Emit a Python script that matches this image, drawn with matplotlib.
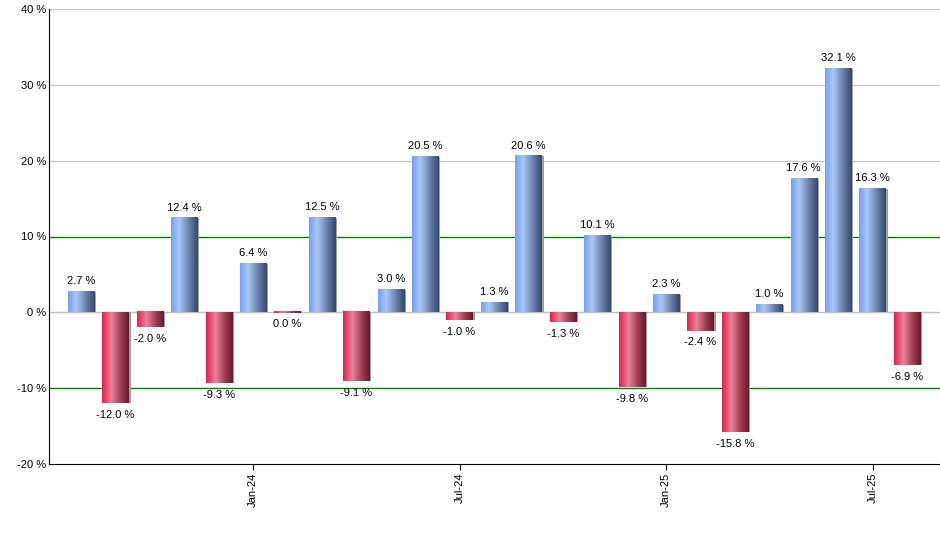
import numpy as np
import matplotlib.pyplot as plt
from matplotlib.colors import LinearSegmentedColormap

months = ['Aug-23', 'Sep-23', 'Oct-23', 'Nov-23', 'Dec-23', 'Jan-24', 'Feb-24', 'Mar-24',
          'Apr-24', 'May-24', 'Jun-24', 'Jul-24', 'Aug-24', 'Sep-24', 'Oct-24', 'Nov-24',
          'Dec-24', 'Jan-25', 'Feb-25', 'Mar-25', 'Apr-25', 'May-25', 'Jun-25', 'Jul-25',
          'Aug-25']
returns = [2.7, -12.0, -2.0, 12.4, -9.3, 6.4, 0.0, 12.5, -9.1, 3.0, 20.5, -1.0, 1.3,
           20.6, -1.3, 10.1, -9.8, 2.3, -2.4, -15.8, 1.0, 17.6, 32.1, 16.3, -6.9]
tick_labels = ['Jan-24', 'Jul-24', 'Jan-25', 'Jul-25']
y_ticks = [-20, -10, 0, 10, 20, 30, 40]

plt.rcParams['font.family'] = ['Liberation Sans', 'DejaVu Sans']

blue = LinearSegmentedColormap.from_list('b', [(0, '#74a0ee'), (0.3, '#aac7f8'),
                                               (0.65, '#6e86b0'), (1, '#33486d')])
red = LinearSegmentedColormap.from_list('r', [(0, '#e0224b'), (0.35, '#e9819b'),
                                              (0.7, '#a03e55'), (1, '#661a2a')])
grad = np.linspace(0, 1, 64).reshape(1, -1)

fig = plt.figure(figsize=(9.4, 5.5), dpi=100)
ax = fig.add_axes([0.0521, 0.1564, 0.9479, 0.8272])

x = np.arange(len(returns))
w = 0.76
for yv, c in [(10, 'green'), (-10, 'green'), (20, '#c8c8c8'), (30, '#c8c8c8'),
              (40, '#c8c8c8'), (0, '#c0c0c0')]:
    ax.axhline(yv, color=c, lw=1, zorder=1)

for xi, v in zip(x, returns):
    h = v if abs(v) > 0.15 else -0.15
    # shadow
    ax.bar(xi + 0.06, h, width=w, bottom=0, color='#a0a0a0', zorder=2, lw=0)
    ax.imshow(grad, cmap=blue if v > 0 else red, aspect='auto', zorder=3,
              extent=[xi - w / 2, xi + w / 2, 0, h], interpolation='bilinear')
    if v >= 0.05:
        ax.annotate(f'{v:.1f} %', (xi, v), xytext=(0, 4), textcoords='offset points',
                    ha='center', va='bottom', fontsize=8)
    else:
        ax.annotate(f'{v:.1f} %', (xi, min(v, 0)), xytext=(0, -5), textcoords='offset points',
                    ha='center', va='top', fontsize=8)

ax.set_xlim(-0.93, len(returns) - 1 + 0.96)
ax.set_ylim(-20, 40)
ax.set_yticks(y_ticks)
ax.set_yticklabels([f'{t} %' for t in y_ticks], fontsize=8)
ax.tick_params(axis='y', length=0, pad=2)
ax.set_xticks([months.index(t) for t in tick_labels])
ax.set_xticklabels(tick_labels, rotation=90, fontsize=8)
ax.tick_params(axis='x', length=4, pad=2)
ax.spines['top'].set_visible(False)
ax.spines['right'].set_visible(False)

fig.savefig('out.png', dpi=100)
